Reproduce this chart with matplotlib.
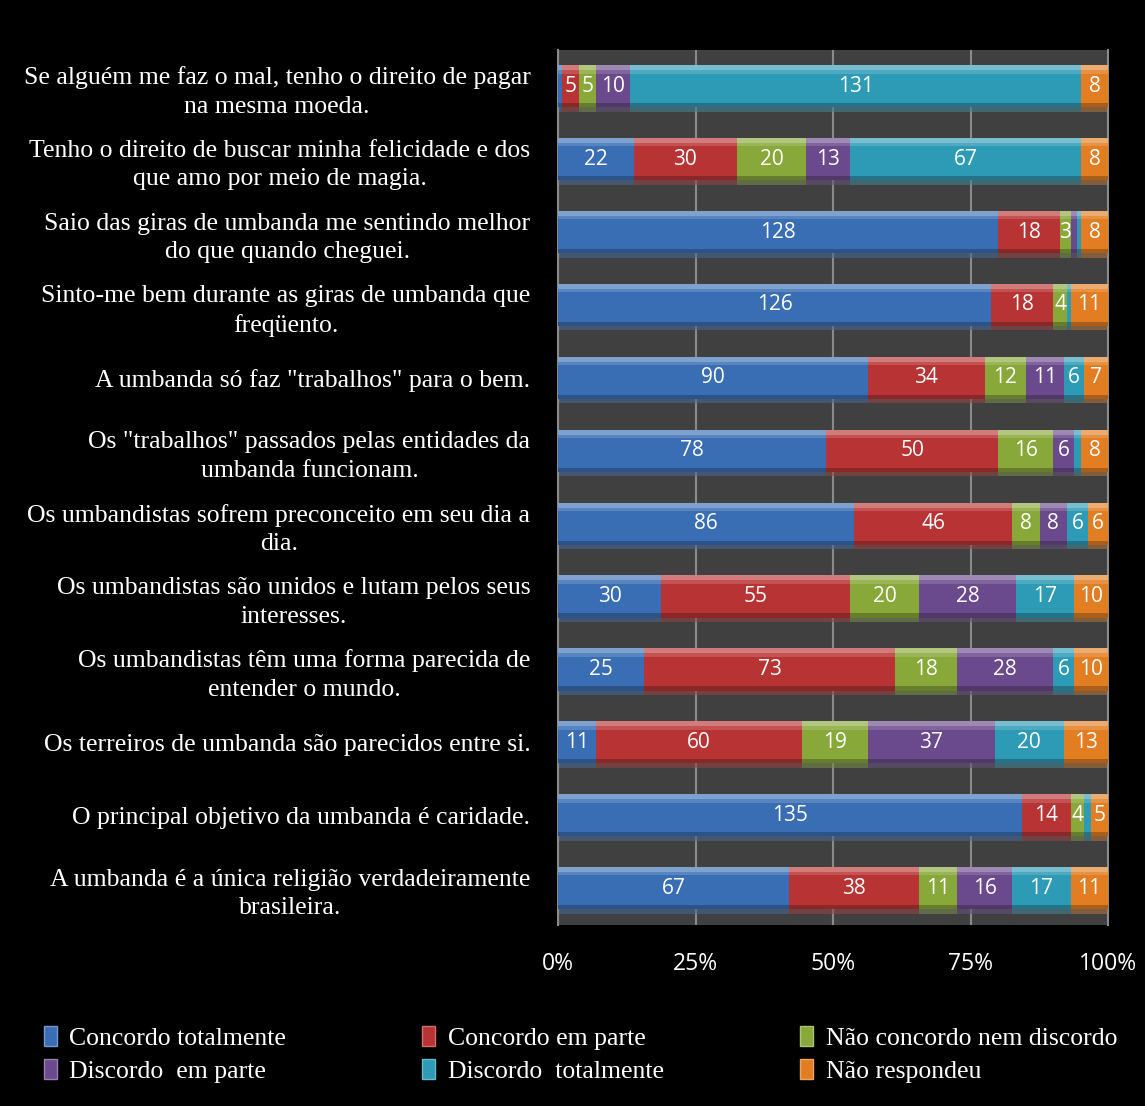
import matplotlib
matplotlib.use("Agg")
import matplotlib.pyplot as plt
import numpy as np
from matplotlib.patches import Patch
from matplotlib.colors import to_rgb

categories = [
    "Se alguém me faz o mal, tenho o direito de pagar\nna mesma moeda.",
    "Tenho o direito de buscar minha felicidade e dos\nque amo por meio de magia.",
    "Saio das giras de umbanda me sentindo melhor\ndo que quando cheguei.",
    "Sinto-me bem durante as giras de umbanda que\nfreqüento.",
    "A umbanda só faz \"trabalhos\" para o bem.",
    "Os \"trabalhos\" passados pelas entidades da\numbanda funcionam.",
    "Os umbandistas sofrem preconceito em seu dia a\ndia.",
    "Os umbandistas são unidos e lutam pelos seus\ninteresses.",
    "Os umbandistas têm uma forma parecida de\nentender o mundo.",
    "Os terreiros de umbanda são parecidos entre si.",
    "O principal objetivo da umbanda é caridade.",
    "A umbanda é a única religião verdadeiramente\nbrasileira.",
]
series_names = ["Concordo totalmente", "Concordo em parte", "Não concordo nem discordo",
                "Discordo  em parte", "Discordo  totalmente", "Não respondeu"]
concordo_total = [1, 22, 128, 126, 90, 78, 86, 30, 25, 11, 135, 67]
concordo_parte = [5, 30, 18, 18, 34, 50, 46, 55, 73, 60, 14, 38]
nem = [5, 20, 3, 4, 12, 16, 8, 20, 18, 19, 4, 11]
discordo_parte = [10, 13, 2, 0, 11, 6, 8, 28, 28, 37, 0, 16]
discordo_total = [131, 67, 1, 1, 6, 2, 6, 17, 6, 20, 2, 17]
nao_resp = [8, 8, 8, 11, 7, 8, 6, 10, 10, 13, 5, 11]
xtick_labels = ["0%", "25%", "50%", "75%", "100%"]

colors = ["#3A6EB4", "#B83434", "#88A83A", "#6A4A8C", "#2E9BB6", "#E27D22"]

data = np.array([concordo_total, concordo_parte, nem, discordo_parte, discordo_total, nao_resp], dtype=float)
totals = data.sum(axis=0)
pct = data / totals * 100

fig = plt.figure(figsize=(11.45, 11.06), dpi=100, facecolor="black")
ax = fig.add_axes([0.4875, 0.164, 0.4805, 0.791])
ax.set_facecolor("#404040")

n = len(categories)
y = np.arange(n)[::-1]
h = 0.58

def lighten(c, f):
    r = np.array(to_rgb(c))
    return tuple(r + (1 - r) * f)

def darken(c, f):
    r = np.array(to_rgb(c))
    return tuple(r * (1 - f))

left = np.zeros(n)
for i in range(6):
    w = pct[i]
    ax.barh(y, w, left=left, height=h, color=colors[i], edgecolor="none", zorder=3)
    # top highlight (bevel)
    ax.barh(y + h / 2 - h * 0.06, w, left=left, height=h * 0.12,
            color=lighten(colors[i], 0.35), edgecolor="none", zorder=4)
    ax.barh(y + h / 2 - h * 0.16, w, left=left, height=h * 0.08,
            color=lighten(colors[i], 0.15), edgecolor="none", zorder=4)
    # bottom shade
    ax.barh(y - h / 2 + h * 0.05, w, left=left, height=h * 0.10,
            color=darken(colors[i], 0.25), edgecolor="none", zorder=4)
    # bottom shadow
    ax.barh(y - h / 2 - 0.03, w, left=left, height=0.06,
            color=lighten(darken(colors[i], 0.3), 0.15), alpha=0.6, edgecolor="none", zorder=2)
    for j in range(n):
        if data[i, j] >= 3:
            ax.text(left[j] + w[j] / 2, y[j], f"{int(data[i, j])}", ha="center", va="center",
                    color="white", fontsize=15, family="Open Sans", zorder=5)
    left += w

ax.set_xlim(0, 100)
ax.set_ylim(-0.5, n - 0.5)
ax.set_xticks([0, 25, 50, 75, 100])
ax.set_xticklabels(xtick_labels, color="white", fontsize=16.5, family="Open Sans")
ax.set_yticks(y)
ax.set_yticklabels(categories, color="white", fontsize=18.5, family="Liberation Serif",
                   multialignment="center", linespacing=1.4)
ax.tick_params(axis="both", length=0)
ax.tick_params(axis="y", pad=20)
ax.tick_params(axis="x", pad=20)
ax.grid(axis="x", color="#8a8a8a", linewidth=1.5, zorder=1)
for s in ["top", "bottom"]:
    ax.spines[s].set_visible(False)
for s in ["left", "right"]:
    ax.spines[s].set_color("#8a8a8a")
    ax.spines[s].set_linewidth(1.5)

order = [0, 3, 1, 4, 2, 5]
handles = [Patch(facecolor=colors[k], edgecolor=lighten(colors[k], 0.3)) for k in order]
labels = [series_names[k] for k in order]
leg = fig.legend(handles, labels, loc="lower left", bbox_to_anchor=(0.018, 0.0),
                 ncol=3, frameon=False, prop={"family": "Liberation Serif", "size": 18.5},
                 handlelength=0.5, handleheight=0.8, handletextpad=0.5, columnspacing=5.3,
                 labelspacing=0.35)
for t in leg.get_texts():
    t.set_color("white")

fig.savefig("out.png", dpi=100, facecolor="black")
